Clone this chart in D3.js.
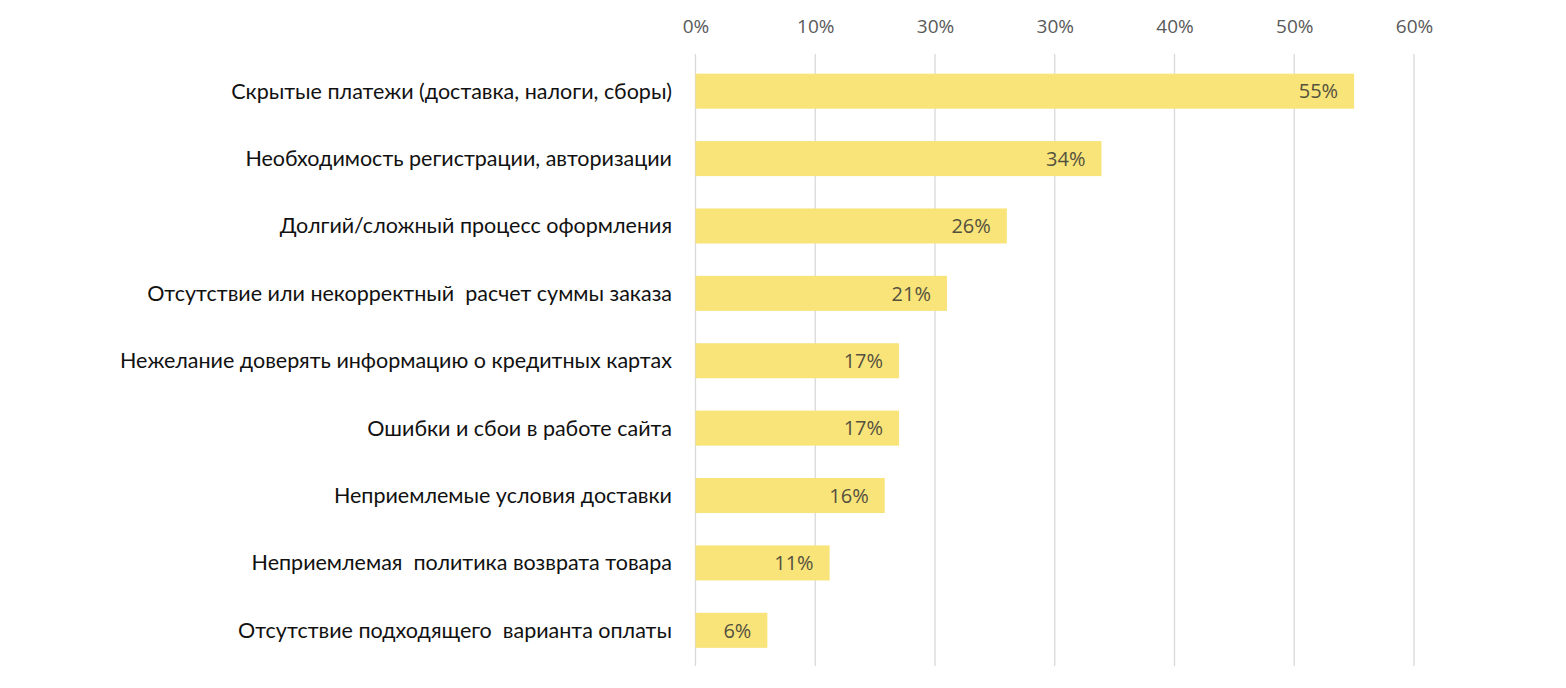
<!DOCTYPE html>
<html>
<head>
<meta charset="utf-8">
<script src="https://cdn.jsdelivr.net/npm/d3@7"></script>
<style>
html,body{margin:0;padding:0;background:#fff;}
svg{display:block;}
</style>
</head>
<body>
<svg id="chart" width="1566" height="688"></svg>
<script>
const categories = [
  "Скрытые платежи (доставка, налоги, сборы)",
  "Необходимость регистрации, авторизации",
  "Долгий/сложный процесс оформления",
  "Отсутствие или некорректный  расчет суммы заказа",
  "Нежелание доверять информацию о кредитных картах",
  "Ошибки и сбои в работе сайта",
  "Неприемлемые условия доставки",
  "Неприемлемая  политика возврата товара",
  "Отсутствие подходящего  варианта оплаты"
];
const values = [55, 33.9, 26, 21, 17, 17, 15.8, 11.2, 6];
const valueLabels = ["55%", "34%", "26%", "21%", "17%", "17%", "16%", "11%", "6%"];
const tickValues = [0, 10, 20, 30, 40, 50, 60];
const tickLabels = ["0%", "10%", "30%", "30%", "40%", "50%", "60%"];

const svg = d3.select("#chart");
const x = d3.scaleLinear().domain([0, 60]).range([695.5, 1414]);
const y = d3.scaleBand().domain(categories).range([57.5, 664]).paddingInner(0.48).paddingOuter(0.24);

// gridlines
svg.append("g").selectAll("line").data(tickValues).join("line")
  .attr("x1", d => x(d)).attr("x2", d => x(d))
  .attr("y1", 54).attr("y2", 666)
  .attr("stroke", "#d9d9d9").attr("stroke-width", 1.3);

// top axis labels
const axis = d3.axisTop(x).tickValues(tickValues).tickFormat((d, i) => tickLabels[i]).tickSize(0).tickPadding(0);
const ag = svg.append("g").attr("transform", "translate(0,33)").call(axis);
ag.select(".domain").remove();
ag.selectAll("text")
  .attr("fill", "#595959")
  .attr("dy", 0)
  .style("font-family", "'Open Sans', sans-serif")
  .style("font-size", "19px");

// bars
svg.append("g").selectAll("rect").data(values).join("rect")
  .attr("x", x(0))
  .attr("y", (d, i) => y(categories[i]))
  .attr("width", d => x(d) - x(0))
  .attr("height", y.bandwidth())
  .attr("fill", "#f9e47a");

// value labels
svg.append("g").selectAll("text").data(values).join("text")
  .attr("x", d => x(d) - 16)
  .attr("y", (d, i) => y(categories[i]) + y.bandwidth() / 2)
  .attr("dy", "0.36em")
  .attr("text-anchor", "end")
  .attr("fill", "#54513f")
  .style("font-family", "'Open Sans', sans-serif")
  .style("font-size", "20px")
  .text((d, i) => valueLabels[i]);

// category labels
svg.append("g").selectAll("text").data(categories).join("text")
  .attr("x", 672)
  .attr("y", d => y(d) + y.bandwidth() / 2)
  .attr("dy", "0.35em")
  .attr("text-anchor", "end")
  .attr("fill", "#111")
  .attr("xml:space", "preserve")
  .style("white-space", "pre")
  .style("font-family", "Lato, sans-serif")
  .style("font-size", "21.5px")
  .text(d => d);
</script>
</body>
</html>
